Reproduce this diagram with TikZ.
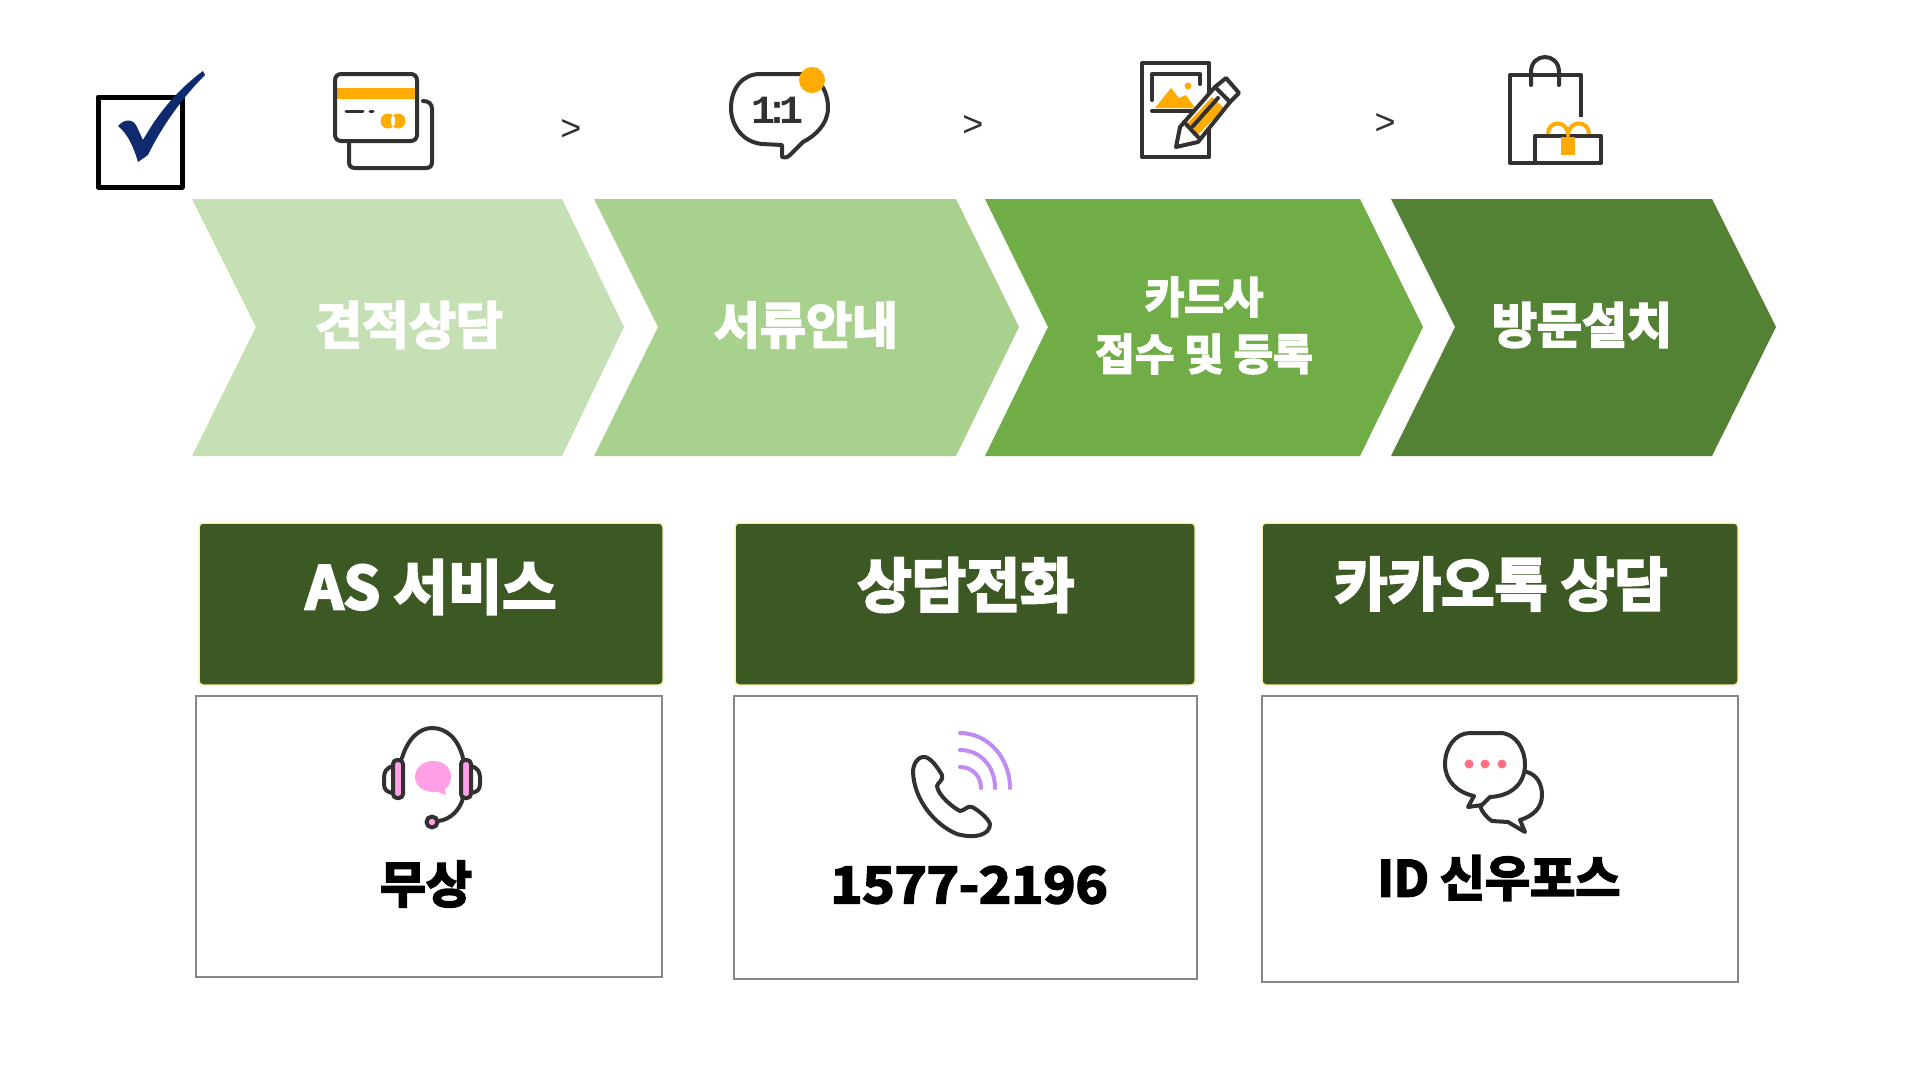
\documentclass[tikz,border=0pt]{standalone}
\usepackage{fontspec}
\newfontfamily\krf{Noto Sans CJK KR Bold}[FakeBold=4]
\newfontfamily\arr{Liberation Sans}
\newfontfamily\ico{Liberation Mono}[LetterSpace=-25]
\definecolor{cA}{HTML}{C5E0B4}
\definecolor{cB}{HTML}{A9D18E}
\definecolor{cC}{HTML}{70AD47}
\definecolor{cD}{HTML}{548235}
\definecolor{hd}{HTML}{3C5923}
\definecolor{hdb}{HTML}{FFEFA8}
\definecolor{ink}{HTML}{333030}
\definecolor{org}{HTML}{FFAB00}
\definecolor{pnk}{HTML}{FFA0E6}
\definecolor{vio}{HTML}{C08CF2}
\definecolor{rd}{HTML}{FF7080}
\definecolor{nav}{HTML}{0F2A6E}
\tikzset{
 x=1pt,y=-1pt,
 lab/.style={font=\krf\fontsize{#1}{#1}\selectfont,text=white,inner sep=0pt,align=center},
 blk/.style={font=\krf\fontsize{#1}{#1}\selectfont,text=black,inner sep=0pt,align=center},
 hbox/.style={fill=hd,draw=hdb,line width=1.5pt,rounded corners=4pt},
 wbox/.style={draw=black!47,line width=1.4pt,fill=white},
 icn/.style={draw=ink,line width=4pt,line cap=round,line join=round},
 gt/.style={font=\arr\fontsize{36}{36}\selectfont,text=ink,inner sep=0pt},
 wave/.style={draw=vio,line width=4pt,line cap=round},
}
\begin{document}
\begin{tikzpicture}
\useasboundingbox (0,0) rectangle (1920,1080);
\fill[white] (0,0) rectangle (1920,1080);
% chevrons
\fill[cA] (192,199)--(562,199)--(624,327)--(562,456)--(192,456)--(256,327)--cycle;
\fill[cB] (594,199)--(956,199)--(1019,327)--(956,456)--(594,456)--(658,327)--cycle;
\fill[cC] (985,199)--(1360,199)--(1423,327)--(1360,456)--(985,456)--(1048,327)--cycle;
\fill[cD] (1391,199)--(1712,199)--(1776,327)--(1712,456)--(1391,456)--(1455,327)--cycle;
\node[lab=51] (t1) at (409,325) {견적상담};
\node[lab=50] (t2) at (806,325) {서류안내};
\node[lab=43] (t3a) at (1204,297) {카드사};
\node[lab=43] (t3b) at (1204,354) {접수 및 등록};
\node[lab=49] (t4) at (1582,325) {방문설치};
% header boxes
\draw[hbox] (199,523) rectangle (663,685);
\draw[hbox] (735,523) rectangle (1195,685);
\draw[hbox] (1262,523) rectangle (1738,685);
\node[lab=59] (h1) at (431,587) {AS 서비스};
\node[lab=59] (h2) at (966,585) {상담전화};
\node[lab=58] (h3) at (1501,584) {카카오톡 상담};
% white boxes
\draw[wbox] (196,696) rectangle (662,977);
\draw[wbox] (734,696) rectangle (1197,979);
\draw[wbox] (1262,696) rectangle (1738,982);
\node[blk=50] (b1) at (426,884) {무상};
\node[blk=50] (b2) at (969,885) {\addfontfeature{FakeStretch=1.09}1577-2196};
\node[blk=49] (b3) at (1499,878) {ID 신우포스};
% separators
\node[gt] (g1) at (571,130) {>};
\node[gt] (g2) at (973,126) {>};
\node[gt] (g3) at (1385,124) {>};
% checkbox
\draw[black,line width=5pt,line join=round] (98,97) rectangle (182,187);
\fill[nav] (118,126) .. controls (124,119) and (133,118) .. (137,127) -- (143,140) .. controls (160,110) and (180,88) .. (203,71) -- (205,75) .. controls (180,100) and (160,130) .. (148,155) -- (138,162) .. controls (134,148) and (128,134) .. (118,126) -- cycle;
% card
\draw[icn] (423,101) .. controls (429,101) and (432,104) .. (432,109) -- (432,162) .. controls (432,166) and (430,168) .. (426,168) -- (355,168) .. controls (351,168) and (349,166) .. (349,162) -- (349,143);
\fill[org] (337,88) rectangle (415,99);
\draw[icn,rounded corners=6pt] (335,74) rectangle (417,141);
\draw[icn,line width=3pt] (346,111) -- (363,111) (370,111) -- (373,111);
\fill[org] (388,121) circle (7.5) (398,121) circle (7.5);
\fill[white] (393,115) .. controls (396,118) and (396,124) .. (393,127) .. controls (390,124) and (390,118) .. (393,115) -- cycle;
% 1:1 bubble
\draw[icn] (760,74) -- (800,74) .. controls (818,74) and (828,90) .. (828,108) .. controls (828,124) and (815,136) .. (803,142) -- (790,155) .. controls (787,158) and (784,158) .. (782,157) -- (782,145) -- (762,144) .. controls (742,142) and (731,125) .. (731,108) .. controls (731,88) and (743,74) .. (760,74) -- cycle;
\node[font=\ico\bfseries\fontsize{40}{40}\selectfont,text=ink,inner sep=0pt] (one) at (777,110) {1:1};
\fill[org] (812,80) circle (13);
% pencil page icon
\draw[icn,line cap=butt] (1142,63) rectangle (1209,157);
\draw[icn] (1152,100) -- (1152,74) -- (1200,74) -- (1200,84);
\fill[org] (1155,108) -- (1171,88) -- (1179,98) -- (1186,95) -- (1195,108) -- cycle;
\fill[org] (1188,86) circle (3.5);
\draw[icn] (1152,111) -- (1193,111);
\fill[white] (1176,147) -- (1180,127) -- (1215,87) -- (1226,78) -- (1239,93) -- (1230,102) -- (1198,142) -- cycle;
\fill[org] (1186,125) -- (1212,97) -- (1224,108) -- (1196,137) -- cycle;
\draw[icn] (1176,147) -- (1180,127) -- (1215,87) -- (1226,78) -- (1239,93) -- (1230,102) -- (1198,142) -- cycle;
\draw[icn] (1215,87) -- (1230,102) (1184,122) -- (1198,137) (1193,126) -- (1218,98);
% bag
\draw[icn,line cap=butt] (1581,117) -- (1581,75) -- (1510,75) -- (1510,163) -- (1601,163) -- (1601,136) -- (1535,136) -- (1535,163);
\draw[icn] (1531,85) -- (1531,72) .. controls (1531,52) and (1559,52) .. (1559,72) -- (1559,85);
\fill[org] (1561,137) rectangle (1575,155);
\draw[org,line width=4pt] (1548,134) .. controls (1548,120) and (1567,120) .. (1568,134) .. controls (1569,120) and (1589,120) .. (1589,134);
% headset
\draw[icn] (402,758) .. controls (408,738) and (420,728) .. (432,728) .. controls (446,728) and (458,738) .. (463,758);
\draw[icn,fill=pnk,rounded corners=4pt] (393,760) rectangle (403,798);
\draw[icn,fill=pnk,rounded corners=4pt] (461,760) rectangle (471,798);
\draw[icn] (393,766) .. controls (386,768) and (384,772) .. (384,778) -- (384,784) .. controls (384,790) and (387,792) .. (393,793);
\draw[icn] (471,766) .. controls (478,768) and (480,772) .. (480,778) -- (480,784) .. controls (480,790) and (477,792) .. (471,793);
\fill[pnk] (433,761) .. controls (444,761) and (451,768) .. (451,777) .. controls (451,783) and (448,787) .. (445,789) -- (446,795) -- (438,792) .. controls (425,793) and (415,787) .. (415,777) .. controls (415,768) and (423,761) .. (433,761) -- cycle;
\draw[icn] (463,798) .. controls (460,810) and (450,820) .. (438,821);
\draw[icn,fill=pnk] (432,822) circle (5.5);
% phone
\draw[icn] (925,757) .. controls (918,756) and (913,764) .. (913,772) .. controls (914,800) and (935,825) .. (957,834) .. controls (975,839) and (990,835) .. (990,824) .. controls (988,818) and (978,810) .. (972,807) .. controls (968,805) and (964,811) .. (960,811) .. controls (952,807) and (938,795) .. (937,786) .. controls (938,782) and (944,780) .. (942,775) .. controls (938,768) and (931,758) .. (925,757) -- cycle;
\draw[wave] (960,767) .. controls (972,767) and (981,776) .. (981,788);
\draw[wave] (960,750) .. controls (980,750) and (995,766) .. (995,788);
\draw[wave] (960,733) .. controls (988,733) and (1010,758) .. (1010,788);
% chat
\draw[icn] (1527,772) .. controls (1537,775) and (1542,784) .. (1542,795) .. controls (1542,808) and (1533,816) .. (1520,820) -- (1525,832) -- (1508,822) -- (1492,821) .. controls (1487,818) and (1482,812) .. (1480,806);
\draw[icn,fill=white] (1470,733) -- (1500,733) .. controls (1516,733) and (1525,750) .. (1525,764) .. controls (1525,785) and (1510,796) .. (1490,797) -- (1482,805) -- (1468,807) -- (1474,796) .. controls (1456,792) and (1445,780) .. (1445,764) .. controls (1445,748) and (1455,733) .. (1470,733) -- cycle;
\fill[rd] (1469,764) circle (4.5) (1485,764) circle (4.5) (1502,764) circle (4.5);
\end{tikzpicture}
\end{document}
